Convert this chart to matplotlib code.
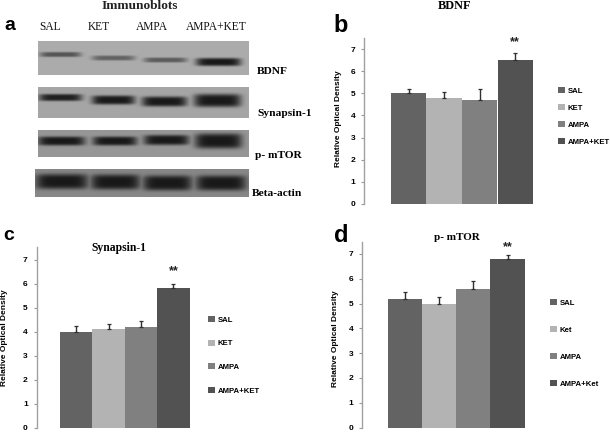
import numpy as np
import matplotlib
matplotlib.use('Agg')
import matplotlib.pyplot as plt

W, H = 610, 432

groups_upper = ['SAL', 'KET', 'AMPA', 'AMPA+KET']
groups_lower = ['SAL', 'Ket', 'AMPA', 'AMPA+Ket']
bar_colors = ['#636363', '#b3b3b3', '#808080', '#525252']

bdnf_vals = [5.0, 4.8, 4.7, 6.5]
bdnf_err = [0.2, 0.25, 0.5, 0.3]
bdnf_star = 7.3
syn_vals = [4.0, 4.1, 4.2, 5.8]
syn_err = [0.25, 0.2, 0.25, 0.2]
syn_star = 6.5
mtor_vals = [5.2, 5.0, 5.6, 6.8]
mtor_err = [0.27, 0.25, 0.3, 0.17]
mtor_star = 7.27

# blots: left, right, top, bottom of the membrane, then one band per lane
# (x0, x1, y, height, darkness), all read in pixels
blot_bdnf = (38, 249, 41, 75)
bands_bdnf = [(40, 81, 54.5, 5, 0.6), (92, 135, 58, 5, 0.5),
              (144, 187, 60, 5, 0.55), (196, 241, 62, 8, 1.0)]
blot_syn = (38, 249, 87, 118)
bands_syn = [(39, 82, 97.5, 7, 0.95), (92, 135, 100, 9, 1.0),
             (142, 187, 101.5, 10, 1.0), (194, 241, 100.5, 13, 1.0)]
blot_mtor = (38, 249, 130, 157)
bands_mtor = [(38, 85, 141, 9, 1.0), (93, 137, 141, 9, 1.0),
              (144, 189, 140, 10, 1.0), (195, 242, 141, 15, 1.0)]
blot_actin = (35, 249, 169, 197)
bands_actin = [(36, 88, 181.5, 15, 1.0), (91, 140, 182, 15, 1.0),
               (143, 192, 183, 15, 1.0), (196, 246, 183, 15, 1.0)]

sans = ['Liberation Sans', 'DejaVu Sans']
serif = ['Liberation Serif', 'DejaVu Serif']


def ftext(x, y, s, **kw):
    kw.setdefault('va', 'center')
    kw.setdefault('ha', 'center')
    kw.setdefault('fontweight', 'bold')
    fig.text(x / W, 1 - y / H, s, **kw)


def draw_blot(ax, box, bands, bg):
    x0, x1, y0, y1 = box
    xx, yy = np.meshgrid(np.arange(x0, x1, 0.5) + 0.25, np.arange(y0, y1, 0.5) + 0.25)
    dark = np.zeros_like(xx)
    for a, b, c, h, d in bands:
        prof = np.exp(-np.abs((xx - (a + b) / 2) / ((b - a) / 2)) ** 6)
        prof = prof * np.exp(-np.abs((yy - c) / (h / 2)) ** 4)
        dark = np.maximum(dark, d * prof)
    img = bg * (1 - dark) + 25 * dark
    ax.imshow(img, cmap='gray', vmin=0, vmax=255, extent=(x0, x1, y1, y0),
              interpolation='bilinear', aspect='auto')


def draw_panel(spine_x, bar_left, bar_right, y0, y7, vals, err, star, labels,
               leg_x, leg_y, leg_space):
    top = y0 - (y0 - y7) / 7 * 7.5
    ax = fig.add_axes([spine_x / W, 1 - y0 / H, (bar_right - spine_x) / W, (y0 - top) / H])
    bw = (bar_right - bar_left) / 4
    xs = np.arange(len(vals))
    bars = ax.bar(xs, vals, width=1.0, color=bar_colors, edgecolor='none', label=None)
    ax.errorbar(xs, vals, yerr=[np.zeros(len(err)), err], fmt='none', ecolor='#303030',
                elinewidth=1.0, capsize=1.6, capthick=0.9)
    ax.text(xs[-1], star, '**', ha='center', va='center', fontsize=9,
            fontweight='bold', family=sans, color='#222222')
    ax.set_xlim(-0.5 - (bar_left - spine_x) / bw, 3.5)
    ax.set_ylim(0, 7.5)
    ax.set_xticks([])
    ax.set_yticks(range(8))
    ax.tick_params(axis='y', length=2.5, width=0.8, color='#999999', pad=4, labelsize=6)
    for t in ax.get_yticklabels():
        t.set_fontweight('bold')
        t.set_family(sans)
    for s in ['top', 'right', 'bottom']:
        ax.spines[s].set_visible(False)
    ax.spines['left'].set_color('#a0a0a0')
    ax.spines['left'].set_linewidth(1.0)
    ax.patch.set_alpha(0)
    fs = 5.6
    fig.legend(bars, labels, loc='upper left', bbox_to_anchor=(leg_x / W, 1 - leg_y / H),
               frameon=False, borderpad=0, borderaxespad=0,
               handlelength=0.85, handleheight=0.85, handletextpad=0.35,
               labelspacing=(leg_space / (fs * 100 / 72)) - 1,
               prop={'family': sans, 'weight': 'bold', 'size': fs})


fig = plt.figure(figsize=(W / 100, H / 100), dpi=100, facecolor='white')

bg_ax = fig.add_axes([0, 0, 1, 1])
draw_blot(bg_ax, blot_bdnf, bands_bdnf, 172)
draw_blot(bg_ax, blot_syn, bands_syn, 165)
draw_blot(bg_ax, blot_mtor, bands_mtor, 150)
draw_blot(bg_ax, blot_actin, bands_actin, 135)
bg_ax.set_xlim(0, W)
bg_ax.set_ylim(H, 0)
bg_ax.set_axis_off()

ftext(140, 6, 'Immunoblots', family=serif, fontsize=9.6, color='#222222')
for x, s in zip([50, 99, 152, 216], groups_upper):
    ftext(x, 27, s, family=serif, fontsize=8.3, fontweight='normal', color='#111111')
ftext(257, 72, 'BDNF', family=serif, fontsize=8.2, ha='left')
ftext(257, 114, 'Synapsin-1', family=serif, fontsize=8.2, ha='left')
ftext(255, 155, 'p- mTOR', family=serif, fontsize=8.2, ha='left')
ftext(252, 194, 'Beta-actin', family=serif, fontsize=8.2, ha='left')

ftext(10, 26, 'a', family=sans, fontsize=14)
ftext(341, 25, 'b', family=sans, fontsize=17)
ftext(9, 235, 'c', family=sans, fontsize=14)
ftext(341, 235, 'd', family=sans, fontsize=17)

draw_panel(364.3, 391, 533, 204, 49, bdnf_vals, bdnf_err, bdnf_star, groups_upper, 558, 87, 17)
draw_panel(36.7, 60, 189.7, 427.5, 259.5, syn_vals, syn_err, syn_star, groups_upper, 208, 316, 23.6)
draw_panel(362.3, 387.7, 524.7, 427.5, 254, mtor_vals, mtor_err, mtor_star, groups_lower, 550, 299, 27)

ftext(455, 6, 'BDNF', family=serif, fontsize=8.8)
ftext(119, 248, 'Synapsin-1', family=serif, fontsize=8.4)
ftext(457, 238, 'p- mTOR', family=serif, fontsize=8)

ftext(338, 119, 'Relative Optical Density', family=sans, fontsize=6, rotation=90)
ftext(5, 338, 'Relative Optical Density', family=sans, fontsize=6, rotation=90)
ftext(335, 339, 'Relative Optical Density', family=sans, fontsize=6, rotation=90)

fig.savefig('out.png', dpi=100)
